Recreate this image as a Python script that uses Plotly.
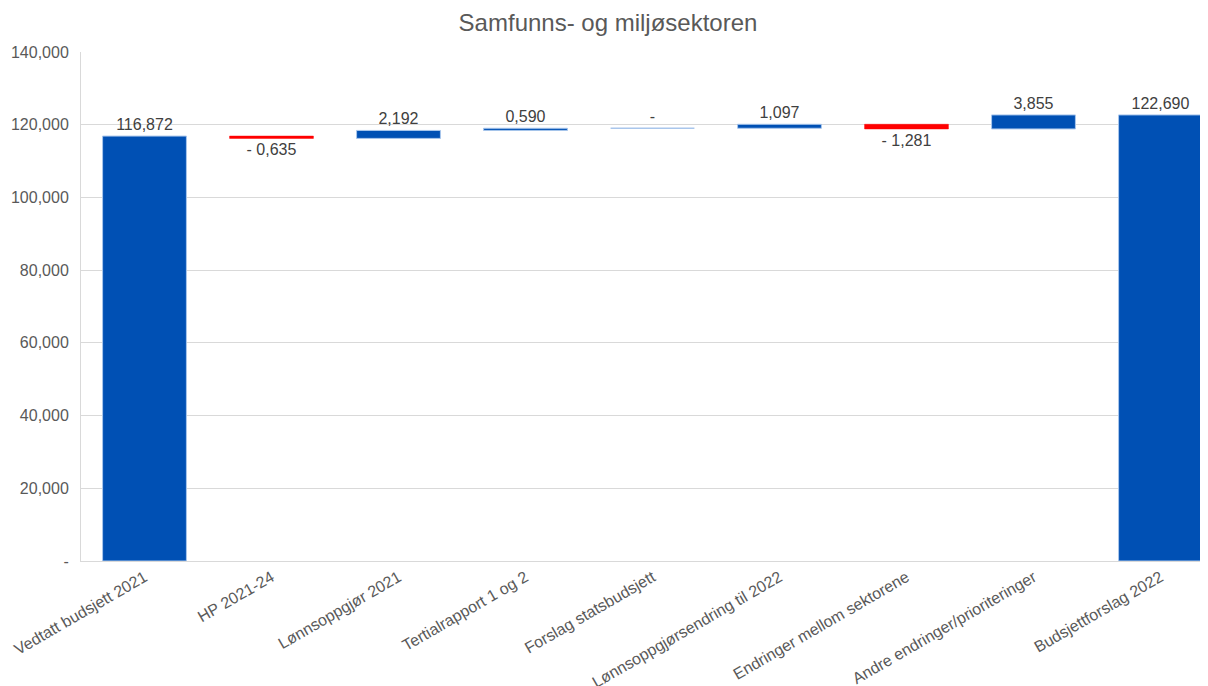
import plotly.graph_objects as go

categories = ["Vedtatt budsjett 2021", "HP 2021-24", "Lønnsoppgjør 2021", "Tertialrapport 1 og 2",
              "Forslag statsbudsjett", "Lønnsoppgjørsendring til 2022", "Endringer mellom sektorene",
              "Andre endringer/prioriteringer", "Budsjettforslag 2022"]
measures = ["absolute", "relative", "relative", "relative", "relative", "relative", "relative", "relative", "total"]
values = [116872, -635, 2192, 590, 0, 1097, -1281, 3855, 0]
labels = ["116,872", "- 0,635", "2,192", "0,590", "-", "1,097", "- 1,281", "3,855", "122,690"]

y_tickvals = [0, 20000, 40000, 60000, 80000, 100000, 120000, 140000]
y_ticktext = ["-", "20,000", "40,000", "60,000", "80,000", "100,000", "120,000", "140,000"]

blue = "#0050B4"
red = "#FF0000"
edge = "#A9C6EC"
gap = 0.34

fig = go.Figure(go.Waterfall(
    x=categories, y=values, measure=measures,
    text=labels, textposition="outside", cliponaxis=False,
    textfont=dict(size=16, color="#404040"),
    increasing=dict(marker=dict(color=blue, line=dict(color=edge, width=1))),
    decreasing=dict(marker=dict(color=red, line=dict(color=red, width=0.5))),
    totals=dict(marker=dict(color=blue, line=dict(color=edge, width=1))),
    connector=dict(visible=False),
))

# zero-valued steps: Excel still draws a thin outline at the running level
level = 0
for i, (m, v) in enumerate(zip(measures, values)):
    if m == "absolute":
        level = v
    elif m == "relative":
        level += v
    if m == "relative" and v == 0:
        fig.add_shape(type="line", xref="x", yref="y",
                      x0=i - (1 - gap) / 2, x1=i + (1 - gap) / 2, y0=level, y1=level,
                      line=dict(color=edge, width=1.5))

fig.update_layout(
    width=1200, height=678,
    paper_bgcolor="white", plot_bgcolor="white",
    font=dict(family="Liberation Sans, Arial, sans-serif", color="#595959", size=16),
    title=dict(text="Samfunns- og miljøsektoren", x=0.5, xanchor="center", y=0.979, yanchor="middle",
               font=dict(size=24, color="#595959")),
    margin=dict(l=73, r=0, t=44, b=125),
    showlegend=False,
    waterfallgap=gap,
)
fig.update_xaxes(tickangle=-30, showline=True, linecolor="#D9D9D9", linewidth=1, automargin=False,
                 range=[-0.5, 8.374],
                 tickfont=dict(size=16, color="#595959"), ticks="")
fig.update_yaxes(range=[0, 140000], tickvals=y_tickvals, ticktext=y_ticktext, automargin=False,
                 showgrid=True, gridcolor="#D9D9D9", gridwidth=1, zeroline=False,
                 showline=True, linecolor="#D9D9D9", linewidth=1, ticks="", ticklabelstandoff=8,
                 tickfont=dict(size=16, color="#595959"))

fig.write_html("out.html")
